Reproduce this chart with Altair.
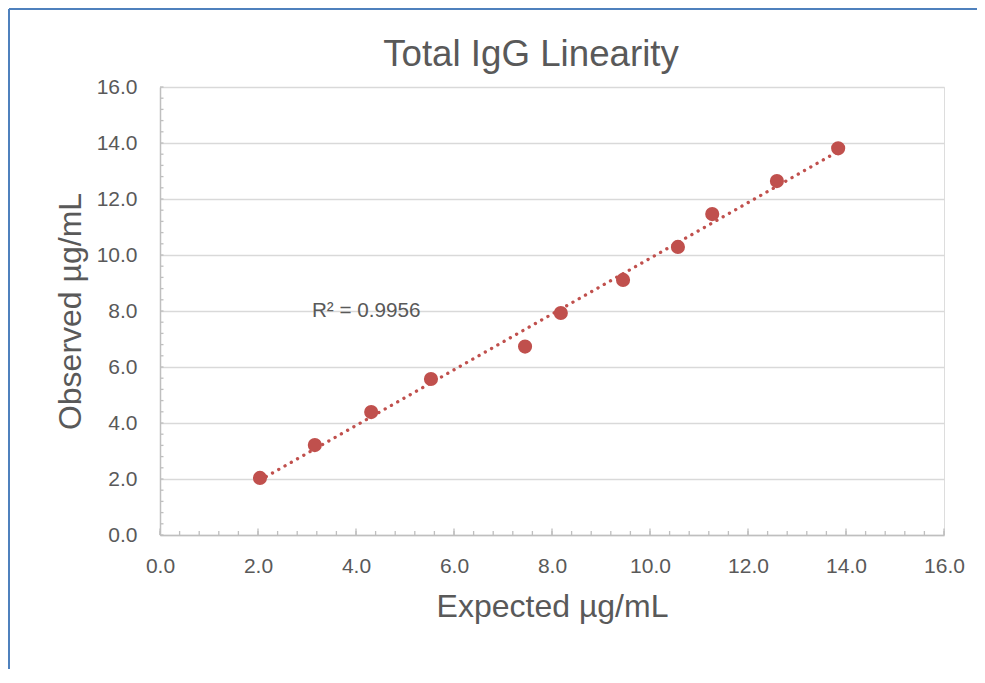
import altair as alt
import numpy as np
import pandas as pd

# --- data ---
expected = [2.04, 3.16, 4.31, 5.53, 7.45, 8.18, 9.45, 10.57, 11.27, 12.59, 13.84]
observed = [2.04, 3.21, 4.39, 5.57, 6.73, 7.93, 9.11, 10.29, 11.46, 12.64, 13.81]
major_ticks = [0, 2, 4, 6, 8, 10, 12, 14, 16]
minor_ticks = [round(v, 1) for v in np.arange(0, 16.01, 0.4)]
r2_label = ["R² = 0.9956"]
r2_x = [3.1]
r2_y = [8.0]
chart_title = ["Total IgG Linearity"]

FONT = "Liberation Sans"
TXT = "#595959"
RED = "#c0504d"
W, H = 784, 448

df = pd.DataFrame({"expected": expected, "observed": observed})
minor_df = pd.DataFrame({"v": minor_ticks})
major_df = pd.DataFrame({"v": major_ticks})
r2_df = pd.DataFrame({"label": r2_label, "x": r2_x, "y": r2_y})
title_df = pd.DataFrame({"t": chart_title})

xscale = alt.Scale(domain=[0, 16], nice=False, zero=False)
yscale = alt.Scale(domain=[0, 16], nice=False, zero=False)

xaxis = alt.Axis(
    values=major_ticks, format=".1f", grid=False, ticks=False, tickSize=0,
    domainColor="#bfbfbf", domainWidth=1.5, labelFlush=False,
    labelFont=FONT, labelFontSize=21, labelColor=TXT, labelPadding=20,
    title="Expected µg/mL", titleFont=FONT, titleFontSize=32, titleFontWeight="normal",
    titleColor=TXT, titleY=71, titleBaseline="middle",
)
yaxis = alt.Axis(
    values=major_ticks, format=".1f", grid=True, gridColor="#d9d9d9", gridWidth=1.5,
    ticks=False, tickSize=0, domainColor="#bfbfbf", domainWidth=1.5, labelFlush=False,
    labelFont=FONT, labelFontSize=21, labelColor=TXT, labelPadding=23,
    title="Observed µg/mL", titleFont=FONT, titleFontSize=32, titleFontWeight="normal",
    titleColor=TXT, titleX=-90, titleY=224, titleBaseline="middle", titleAlign="center",
)

base = alt.Chart(df)

points = base.mark_circle(size=200, color=RED, opacity=1).encode(
    x=alt.X("expected:Q", scale=xscale, axis=xaxis),
    y=alt.Y("observed:Q", scale=yscale, axis=yaxis),
)

trend = base.transform_regression("expected", "observed").mark_line(
    color=RED, strokeWidth=3.3, strokeDash=[0.1, 7.1], strokeCap="round"
).encode(x="expected:Q", y="observed:Q")

xminor = alt.Chart(minor_df).mark_rule(color="#bfbfbf", strokeWidth=1.3).encode(
    x="v:Q", y=alt.value(H), y2=alt.value(H - 4)
)
xmajor = alt.Chart(major_df).mark_rule(color="#bfbfbf", strokeWidth=1.3).encode(
    x="v:Q", y=alt.value(H), y2=alt.value(H - 6.5)
)
yminor = alt.Chart(minor_df).mark_rule(color="#bfbfbf", strokeWidth=1.3).encode(
    y="v:Q", x=alt.value(0), x2=alt.value(3.5)
)

r2 = alt.Chart(r2_df).mark_text(
    align="left", baseline="middle", font=FONT, fontSize=20.7, color=TXT
).encode(x="x:Q", y="y:Q", text="label:N")

title = alt.Chart(title_df).mark_text(
    align="center", baseline="middle", font=FONT, fontSize=36.7, color=TXT
).encode(x=alt.value(371), y=alt.value(-32), text="t:N")

# frame lines (top and left edge of the chart area)
frame_left = alt.Chart(df).mark_rule(color="#4f81bd", strokeWidth=2).encode(
    x=alt.value(-151), y=alt.value(-78), y2=alt.value(600)
)
frame_top = alt.Chart(df).mark_rule(color="#4f81bd", strokeWidth=2).encode(
    y=alt.value(-78), x=alt.value(-151), x2=alt.value(830)
)

chart = alt.layer(
    xminor, xmajor, yminor, trend, points, r2, title, frame_left, frame_top
).properties(
    width=W, height=H,
    autosize=alt.AutoSizeParams(type="none"),
    padding={"left": 152, "top": 79, "right": 33, "bottom": 134},
).configure_view(stroke=None).configure(background="white")

chart.save("out.html", embed_options={"renderer": "svg", "actions": False})
